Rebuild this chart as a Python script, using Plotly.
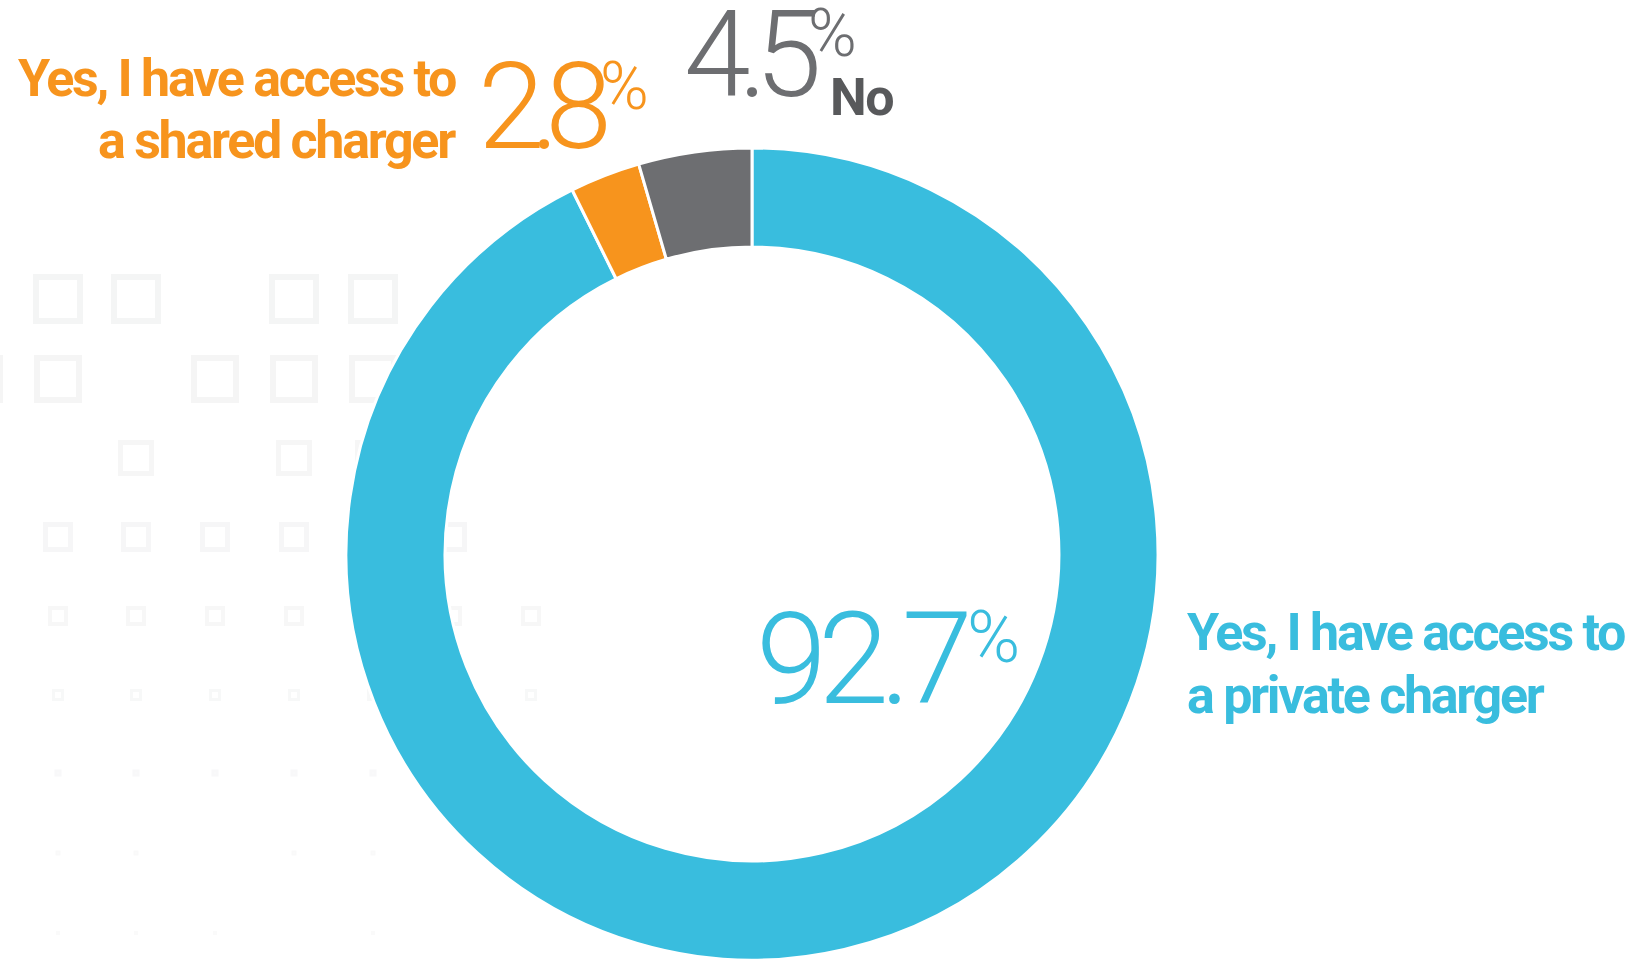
import plotly.graph_objects as go

W, H = 1636, 960

# Survey answers: access to a home charger
categories = ["Yes, I have access to a private charger",
              "Yes, I have access to a shared charger",
              "No"]
shares = [92.7, 2.8, 4.5]
label_lines = [["Yes, I have access to", "a private charger"],
               ["Yes, I have access to", "a shared charger"],
               ["No"]]

BLUE, ORANGE, GREY, DARK = "#39BDDE", "#F7941D", "#6D6E71", "#58595B"
slice_colors = [BLUE, ORANGE, GREY]

LABEL_FONT = "Roboto, sans-serif"
NUM_FONT = "Roboto, sans-serif"


def px(x):
    return x / W


def py(y):
    return 1 - y / H


# donut geometry in pixels
cx, cy, r = 752, 554, 406

fig = go.Figure(go.Pie(
    labels=categories,
    values=shares,
    sort=False,
    direction="clockwise",
    rotation=0,
    hole=0.756,
    marker=dict(colors=slice_colors, line=dict(color="white", width=3)),
    textinfo="none",
    hoverinfo="label+percent",
    showlegend=False,
    domain=dict(x=[px(cx - r), px(cx + r)], y=[py(cy + r), py(cy - r)]),
))

annotations = []


def text(x, y, s, size, color, weight, xanchor, tracking=0):
    if tracking:
        s = f'<span style="letter-spacing:{tracking}px">{s}</span>'
    annotations.append(dict(
        x=px(x), y=py(y), xref="paper", yref="paper", text=s, showarrow=False,
        xanchor=xanchor, yanchor="middle", borderpad=0,
        font=dict(family=NUM_FONT if weight < 500 else LABEL_FONT,
                  size=size, color=color, weight=weight)))


def big_number(value, x, y_mid, size, color, x_pct, y_pct, pct_size, tracking):
    text(x, y_mid, f"{value:.1f}", size, color, 300, "left", tracking)
    text(x_pct, y_pct, "%", pct_size, color, 300, "left")


def label(x, y, s, color, xanchor, size=52):
    text(x, y, s, size, color, 700, xanchor, -2.3)


# private charger
big_number(shares[0], 755, 659, 128, BLUE, 966, 637, 72, -9)
label(1186, 632, label_lines[0][0], BLUE, "left")
label(1186, 695, label_lines[0][1], BLUE, "left")

# shared charger
big_number(shares[1], 477, 107, 120, ORANGE, 599, 87, 66, -14)
label(457, 78, label_lines[1][0], ORANGE, "right")
label(457, 140, label_lines[1][1], ORANGE, "right")

# no access
big_number(shares[2], 683, 55, 120, GREY, 807, 34, 66, -12)
text(829, 97, label_lines[2][0], 52, DARK, 700, "left", -1.5)

# faint decorative grid of squares, shrinking row by row
grid_cols = [-21, 58, 136, 215, 294, 373, 452, 531]
grid_rows = [
    (299, 50, 6, [1, 2, 4, 5]),
    (379, 48, 6, [0, 1, 3, 4, 5]),
    (458, 36, 5, [0, 2, 4, 5]),
    (537, 30, 5, [1, 2, 3, 4, 5, 6]),
    (616, 20, 4, [1, 2, 3, 4, 6, 7]),
    (695, 12, 3, [1, 2, 3, 4, 5, 7]),
    (773, 7, 3, [1, 2, 3, 4, 5]),
    (853, 5, 2, [1, 2, 4, 5]),
    (933, 4, 2, [1, 2, 3, 5]),
]
shapes = []
for i, (yc, size, lw, cols) in enumerate(grid_rows):
    col = "rgba(228,229,230,%.2f)" % (0.40 - 0.025 * i)
    for c in cols:
        xc = grid_cols[c]
        h = size / 2 - lw / 2
        shapes.append(dict(
            type="rect", layer="below", xref="paper", yref="paper",
            x0=px(xc - h), x1=px(xc + h), y0=py(yc + h), y1=py(yc - h),
            line=dict(color=col, width=lw), fillcolor="rgba(0,0,0,0)"))

fig.update_layout(
    width=W, height=H,
    margin=dict(l=0, r=0, t=0, b=0),
    paper_bgcolor="white", plot_bgcolor="white",
    annotations=annotations,
    shapes=shapes,
)

fig.write_html("out.html")
